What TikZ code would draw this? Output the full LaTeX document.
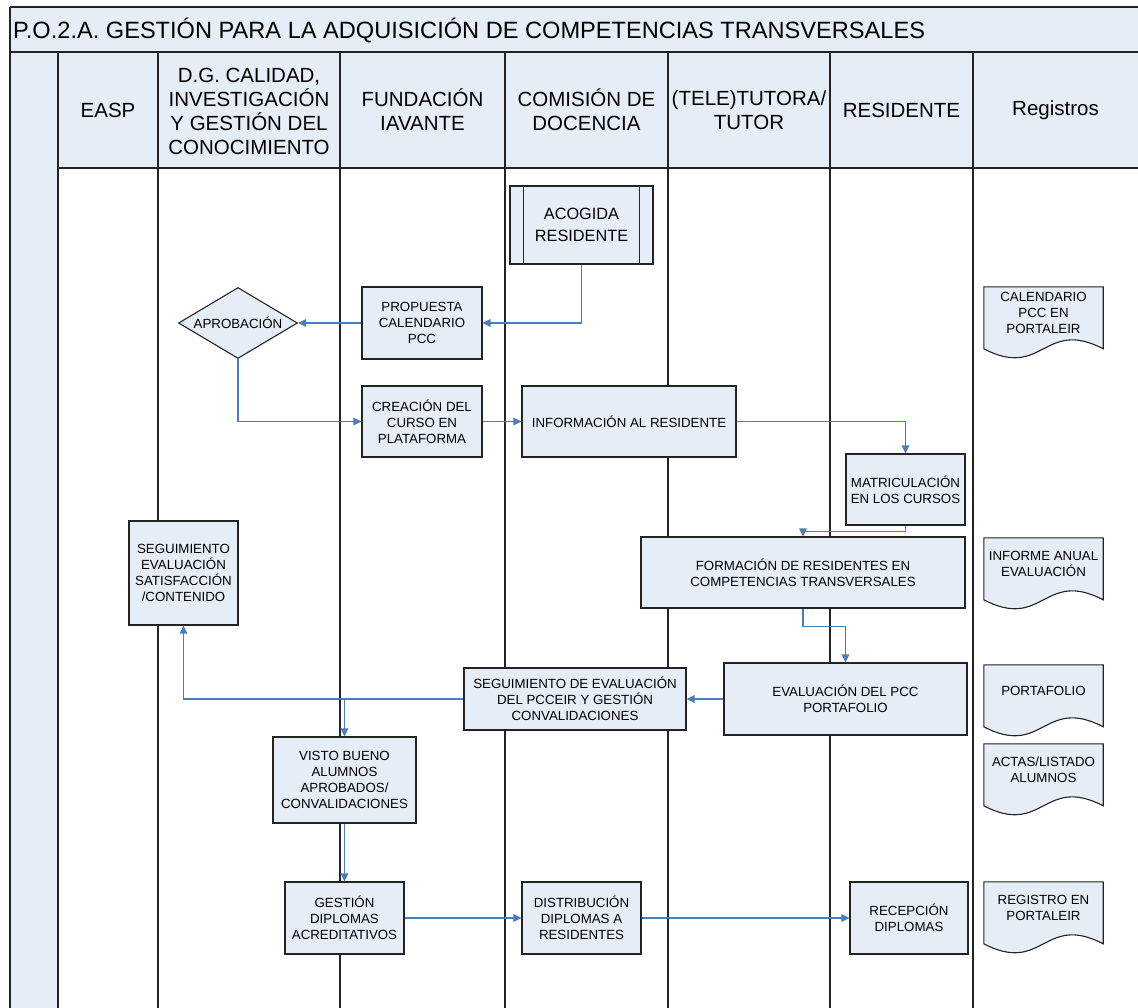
\documentclass[tikz,border=0pt]{standalone}
\usepackage{fontspec}
\setmainfont{Liberation Sans}
\usetikzlibrary{arrows.meta,calc,shapes.geometric}
\pgfdeclarelayer{background}
\pgfsetlayers{background,main}
\definecolor{boxfill}{RGB}{230,237,247}
\definecolor{flow}{RGB}{74,126,187}
\definecolor{edge}{RGB}{35,35,35}

\begin{document}
\begin{tikzpicture}[x=1pt,y=-1pt,
  lane/.style={draw=edge,line width=1.3pt},
  task/.style={draw=edge,line width=1.1pt,fill=boxfill,inner sep=1pt,align=center,
    font=\fontsize{13.3}{16}\selectfont},
  flowline/.style={draw=flow,line width=1.2pt,-{Triangle[length=8pt,width=7.5pt]}},
  docnode/.style={inner sep=0pt,align=center,minimum width=119pt,minimum height=52pt,
    font=\fontsize{13.3}{16}\selectfont},
  docline/.style={draw=edge,line width=1.1pt,fill=boxfill},
  head/.style={align=center,font=\fontsize{20.5}{24}\selectfont}]

\useasboundingbox (0,0) rectangle (1138,1007);
\clip (0,0) rectangle (1138,1007);

% background fills
\begin{pgfonlayer}{background}
  \fill[white] (0,0) rectangle (1138,1007);
  \fill[boxfill] (10,7) rectangle (1145,168);
  \fill[boxfill] (10,52) rectangle (58,1012);
\end{pgfonlayer}

% frame and swimlane lines
\draw[lane] (10,7) -- (1145,7);
\draw[lane] (10,52) -- (1145,52);
\draw[lane] (58,168) -- (1145,168);
\draw[lane] (10,7) -- (10,1012);
\foreach \lx in {58,158,340,505,668,830,973}
  \draw[lane] (\lx,52) -- (\lx,1012);

% title
\node[anchor=west,inner sep=0pt,font=\fontsize{23.6}{28}\selectfont] (title) at (13,30)
  {P.O.2.A. GESTIÓN PARA LA ADQUISICIÓN DE COMPETENCIAS TRANSVERSALES};

% lane headings
\node[head] (hEasp) at (108,110) {EASP};
\node[head] (hCal)  at (249,111) {D.G. CALIDAD,\\INVESTIGACIÓN\\Y GESTIÓN DEL\\CONOCIMIENTO};
\node[head] (hFun)  at (422.5,110) {FUNDACIÓN\\IAVANTE};
\node[head] (hCom)  at (586.5,110) {COMISIÓN DE\\DOCENCIA};
\node[head] (hTut)  at (749,110) {(TELE)TUTORA/\\TUTOR};
\node[head] (hRes)  at (901.5,110) {RESIDENTE};
\node[head] (hReg)  at (1055.5,110) {Registros};

% process steps
\node[task,minimum width=143pt,minimum height=78pt,font=\fontsize{16.3}{22}\selectfont]
  (acog) at (581.5,225) {ACOGIDA\\RESIDENTE};
\draw[edge,line width=1.1pt] ($(acog.north west)+(14,0)$) -- ($(acog.south west)+(14,0)$);
\draw[edge,line width=1.1pt] ($(acog.north east)+(-14,0)$) -- ($(acog.south east)+(-14,0)$);

\node[task,minimum width=120pt,minimum height=72pt] (prop) at (422,323) {PROPUESTA\\CALENDARIO\\PCC};
\node[draw=edge,line width=1.1pt,fill=boxfill,diamond,aspect=1.68,minimum width=119pt,
  minimum height=71pt,inner sep=0pt,font=\fontsize{13.3}{16}\selectfont]
  (apro) at (238,323) {APROBACIÓN};
\node[task,minimum width=120pt,minimum height=71pt] (crea) at (422,421.5) {CREACIÓN DEL\\CURSO EN\\PLATAFORMA};
\node[task,minimum width=214pt,minimum height=71pt] (info) at (629,421.5) {INFORMACIÓN AL RESIDENTE};
\node[task,minimum width=119pt,minimum height=71pt] (matr) at (905.5,489.5) {MATRICULACIÓN\\EN LOS CURSOS};
\node[task,minimum width=324pt,minimum height=71pt] (form) at (803,572.5)
  {FORMACIÓN DE RESIDENTES EN\\COMPETENCIAS TRANSVERSALES};
\node[task,minimum width=109pt,minimum height=104pt] (sege) at (183.5,573)
  {SEGUIMIENTO\\EVALUACIÓN\\SATISFACCIÓN\\/CONTENIDO};
\node[task,minimum width=243pt,minimum height=72pt] (eval) at (845.5,699) {EVALUACIÓN DEL PCC\\PORTAFOLIO};
\node[task,minimum width=222pt,minimum height=62pt] (segc) at (575,699)
  {SEGUIMIENTO DE EVALUACIÓN\\DEL PCCEIR Y GESTIÓN\\CONVALIDACIONES};
\node[task,minimum width=143pt,minimum height=86pt] (vist) at (344.5,780)
  {VISTO BUENO\\ALUMNOS\\APROBADOS/\\CONVALIDACIONES};
\node[task,minimum width=119pt,minimum height=72pt] (gest) at (344.5,918) {GESTIÓN\\DIPLOMAS\\ACREDITATIVOS};
\node[task,minimum width=119pt,minimum height=72pt] (dist) at (581.5,918) {DISTRIBUCIÓN\\DIPLOMAS A\\RESIDENTES};
\node[task,minimum width=118pt,minimum height=72pt] (rece) at (909,918) {RECEPCIÓN\\DIPLOMAS};

% records (document shapes)
\node[docnode] (d1) at (1043.5,313) {CALENDARIO\\PCC EN\\PORTALEIR};
\node[docnode] (d2) at (1043.5,564) {INFORME ANUAL\\EVALUACIÓN};
\node[docnode] (d3) at (1043.5,691) {PORTAFOLIO};
\node[docnode] (d4) at (1043.5,770) {ACTAS/LISTADO\\ALUMNOS};
\node[docnode] (d5) at (1043.5,908) {REGISTRO EN\\PORTALEIR};
\begin{pgfonlayer}{background}
  \foreach \d in {d1,d2,d3,d4,d5}
    \draw[docline] (\d.north west) -- (\d.north east) -- ($(\d.north east)+(0,62)$)
      .. controls ($(\d.north east)+(-59.5,31)$) and ($(\d.north west)+(59.5,93)$)
      .. ($(\d.north west)+(0,62)$) -- cycle;
\end{pgfonlayer}

% flow connectors
\draw[flowline] (acog.south) |- (prop.east);
\draw[flowline] (prop.west) -- (apro.east);
\draw[flowline] (apro.south) |- (crea.west);
\draw[flowline] (crea.east) -- (info.west);
\draw[flowline] (info.east) -| (matr.north);
\draw[flowline] (matr.south) -- ++(0,6) -| (form.north);
\draw[flowline] (form.south) -- ++(0,18) -| (eval.north);
\draw[flowline] (eval.west) -- (segc.east);
\draw[flowline] (segc.west) -| (sege.south);
\draw[flowline] (vist.north |- segc.west) -- (vist.north);
\draw[flowline] (vist.south) -- (gest.north);
\draw[flowline] (gest.east) -- (dist.west);
\draw[flowline] (dist.east) -- (rece.west);
\end{tikzpicture}
\end{document}
